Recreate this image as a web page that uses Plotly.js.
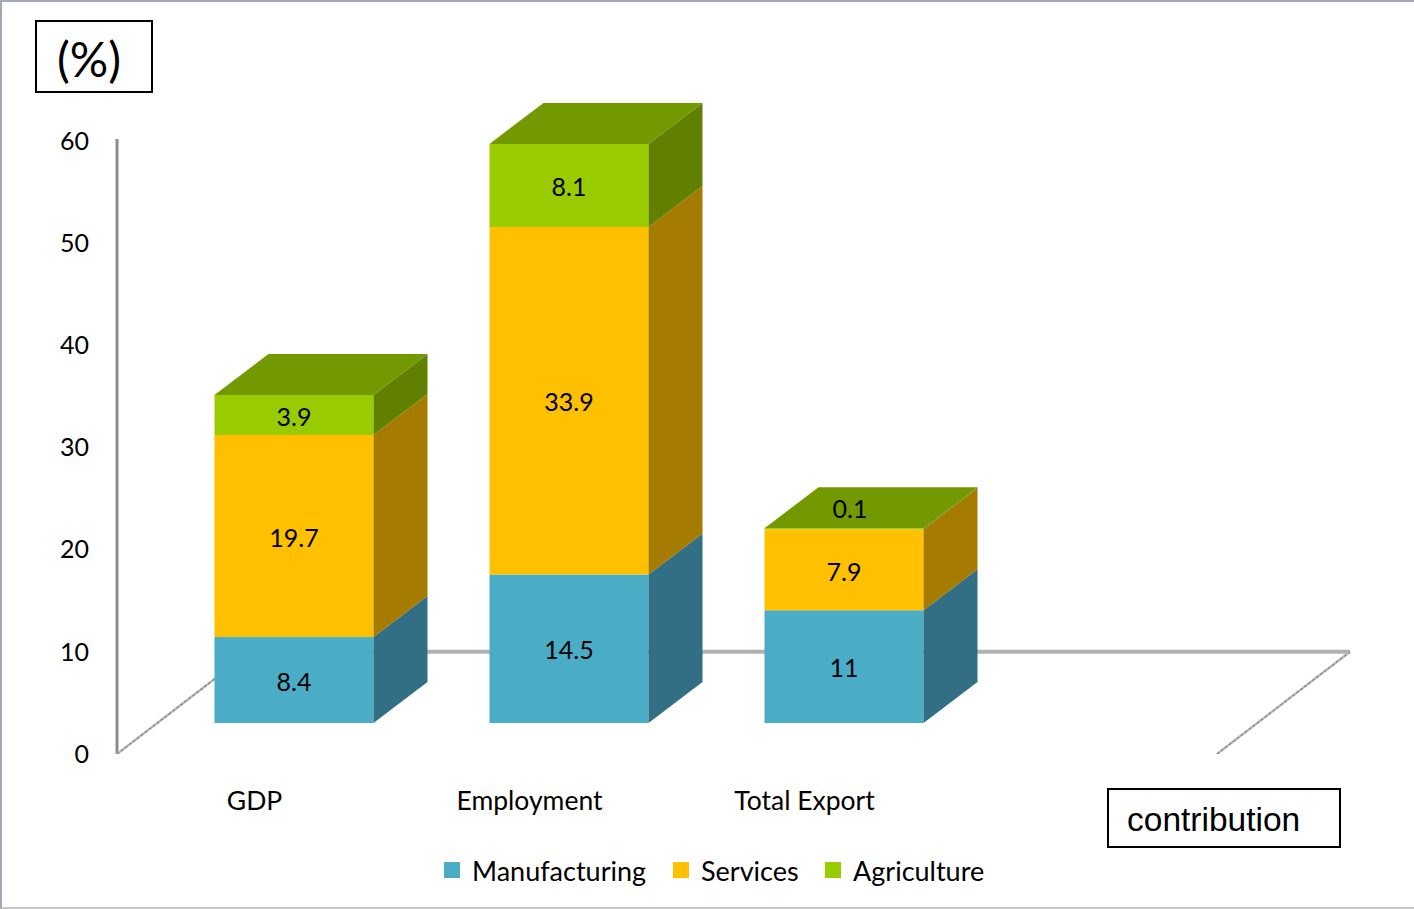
<!DOCTYPE html>
<html>
<head>
<meta charset="utf-8">
<script src="https://cdn.plot.ly/plotly-3.0.1.min.js"></script>
<style>html,body{margin:0;padding:0;background:#fff;overflow:hidden}</style>
</head>
<body>
<div id="chart" style="width:1414px;height:909px"></div>
<script>
// Sector contribution, in percent
const categories = ['GDP', 'Employment', 'Total Export'];
const manufacturing = [8.4, 14.5, 11];
const services = [19.7, 33.9, 7.9];
const agriculture = [3.9, 8.1, 0.1];
const axisTicks = [0, 10, 20, 30, 40, 50, 60];

const seriesList = [
  {name: 'Manufacturing', values: manufacturing, front: '#4BACC6', side: '#326F84', legendId: 'legend', legendLeft: 432},
  {name: 'Services', values: services, front: '#FFC000', side: '#A67C00', legendId: 'legend2', legendLeft: 661},
  {name: 'Agriculture', values: agriculture, front: '#99CC00', side: '#628000', legendId: 'legend3', legendLeft: 813}
];
const topFace = '#739900';

const W = 1414, H = 909;
const plotLeft = 105, plotRight = 1352, plotTop = 95, plotBottom = 754;
const wallX = 117;                 // pixel column of the front wall edge
const xUnit = 275;                 // pixels per category
const yUnit = 613 / 60;            // pixels per percent on the visible axis
const barUnit = 10.25;             // pixels per percent on the bar axis
const barFloor = 723;              // pixel row of the bars' base
const barWidth = 159 / xUnit;
const barShift = 39.5 / xUnit;     // bars sit ahead of their category labels
const depthX = 54 / xUnit;
const depthY = 41 / barUnit;
const wallDepth = 133 / xUnit;
const labelDrop = 4.5 / barUnit;   // optical centring of the value labels
const catCount = 4;                // the axis leaves room for one empty slot
const xLeft = -0.5;
const xMin = xLeft - (wallX - plotLeft) / xUnit;
const xMax = xMin + (plotRight - plotLeft) / xUnit;

// Paper coordinates are relative to the plot area
const px = v => (v - plotLeft) / (plotRight - plotLeft);
const py = v => (plotBottom - v) / (plotBottom - plotTop);
const textFont = 'Lato, Carlito, sans-serif';

const traces = [];

// Wall and floor outline on the visible axis
traces.push({x: [xLeft, xLeft], y: [0, 60.2], mode: 'lines', cliponaxis: false,
  line: {color: '#8C8C8C', width: 3}, showlegend: false, hoverinfo: 'skip'});
traces.push({x: [xLeft + wallDepth, xLeft + catCount + wallDepth], y: [10, 10], mode: 'lines', cliponaxis: false,
  line: {color: '#B0B0B0', width: 4}, showlegend: false, hoverinfo: 'skip'});
[xLeft, xLeft + catCount].forEach(x0 => {
  traces.push({x: [x0, x0 + wallDepth], y: [0, 10], mode: 'lines', cliponaxis: false,
    line: {color: '#BDBDBD', width: 2.5}, showlegend: false, hoverinfo: 'skip'});
  traces.push({x: [x0, x0 + wallDepth], y: [0, 10], mode: 'lines', cliponaxis: false,
    line: {color: '#858585', width: 1.2, dash: '3px,2px'}, showlegend: false, hoverinfo: 'skip'});
});

// Front faces, one stacked layer per series
const running = categories.map(() => 0);
const labelX = [], labelY = [], labelText = [];
seriesList.forEach(s => {
  const bases = running.slice();
  traces.push({type: 'bar', name: s.name, showlegend: false, hoverinfo: 'skip',
    x: categories.map((_, i) => i + barShift), y: s.values, base: bases,
    width: barWidth, yaxis: 'y2', marker: {color: s.front, line: {width: 0}}});

  // Side faces derived from the same stacked values
  s.values.forEach((v, i) => {
    const xr = i + barShift + barWidth / 2;
    const y0 = bases[i], y1 = bases[i] + v;
    traces.push({x: [xr, xr + depthX, xr + depthX, xr, xr], y: [y0, y0 + depthY, y1 + depthY, y1, y0],
      yaxis: 'y2', mode: 'lines', fill: 'toself', fillcolor: s.side, cliponaxis: false,
      line: {width: 0, color: s.side}, showlegend: false, hoverinfo: 'skip'});

    // A layer too thin for its label carries it on the top face instead
    const thin = v < 1;
    labelX.push(i + barShift + (thin ? 6 / xUnit : 0));
    labelY.push(thin ? y1 + depthY * 0.4 : y0 + v / 2 - labelDrop);
    labelText.push(String(v));
    running[i] += v;
  });
});

// Top faces
categories.forEach((_, i) => {
  const xl = i + barShift - barWidth / 2, xr = xl + barWidth, y = running[i];
  traces.push({x: [xl, xl + depthX, xr + depthX, xr, xl], y: [y, y + depthY, y + depthY, y, y],
    yaxis: 'y2', mode: 'lines', fill: 'toself', fillcolor: topFace, cliponaxis: false,
    line: {width: 0, color: topFace}, showlegend: false, hoverinfo: 'skip'});
});

// Value labels
traces.push({x: labelX, y: labelY, text: labelText, yaxis: 'y2', mode: 'text',
  textposition: 'middle center', textfont: {family: textFont, size: 25, color: '#000'},
  cliponaxis: false, showlegend: false, hoverinfo: 'skip'});

// Legend keys, each in its own legend so the spacing can be set per entry
seriesList.forEach(s => traces.push({x: [null], y: [null], name: s.name, mode: 'markers', legend: s.legendId,
  marker: {symbol: 'square', size: 16, color: s.front}, hoverinfo: 'skip'}));

const layout = {
  width: W, height: H,
  paper_bgcolor: '#fff', plot_bgcolor: 'rgba(0,0,0,0)',
  margin: {l: plotLeft, r: W - plotRight, t: plotTop, b: H - plotBottom, pad: 0, autoexpand: false},
  barmode: 'overlay',
  font: {family: textFont, size: 25, color: '#000'},
  xaxis: {range: [xMin, xMax], tickmode: 'array', tickvals: categories.map((_, i) => i),
    ticktext: categories, showgrid: false, zeroline: false, showline: false, ticks: '',
    ticklabelstandoff: 28, tickfont: {family: textFont, size: 26.5, color: '#000'}},
  yaxis: {range: [0, (plotBottom - plotTop) / yUnit], tickmode: 'array', tickvals: axisTicks,
    showgrid: false, zeroline: false, showline: false, ticks: '',
    ticklabelstandoff: 15, tickfont: {family: textFont, size: 25, color: '#000'}},
  yaxis2: {range: [-(plotBottom - barFloor) / barUnit, (barFloor - plotTop) / barUnit],
    overlaying: 'y', visible: false},
  showlegend: true,
  shapes: [
    {type: 'rect', xref: 'paper', yref: 'paper', x0: px(36), x1: px(152), y0: py(21), y1: py(92),
      line: {color: '#000', width: 2}, fillcolor: '#fff'},
    {type: 'rect', xref: 'paper', yref: 'paper', x0: px(1108), x1: px(1340), y0: py(789), y1: py(847),
      line: {color: '#000', width: 2}, fillcolor: '#fff'},
    {type: 'line', xref: 'paper', yref: 'paper', x0: px(0), x1: px(W), y0: py(1), y1: py(1),
      line: {color: '#A4A6BC', width: 2}},
    {type: 'line', xref: 'paper', yref: 'paper', x0: px(1), x1: px(1), y0: py(0), y1: py(H),
      line: {color: '#A4A6BC', width: 2}},
    {type: 'line', xref: 'paper', yref: 'paper', x0: px(0), x1: px(W), y0: py(908), y1: py(908),
      line: {color: '#B4B4B4', width: 1.5}}
  ],
  annotations: [
    {xref: 'paper', yref: 'paper', x: px(89), y: py(58.5), text: '(%)', showarrow: false,
      xanchor: 'center', yanchor: 'middle', font: {family: textFont, size: 48, color: '#000'}},
    {xref: 'paper', yref: 'paper', x: px(1213.5), y: py(819), text: 'contribution', showarrow: false,
      xanchor: 'center', yanchor: 'middle', font: {family: 'Liberation Sans, Arial, sans-serif', size: 33.5, color: '#000'}}
  ]
};

seriesList.forEach(s => {
  layout[s.legendId] = {orientation: 'h', x: px(s.legendLeft), y: py(846), xanchor: 'left', yanchor: 'top',
    bgcolor: 'rgba(0,0,0,0)', font: {family: textFont, size: 27, color: '#000'}, itemwidth: 30};
});

Plotly.newPlot('chart', traces, layout, {displayModeBar: false, staticPlot: true});
</script>
</body>
</html>
